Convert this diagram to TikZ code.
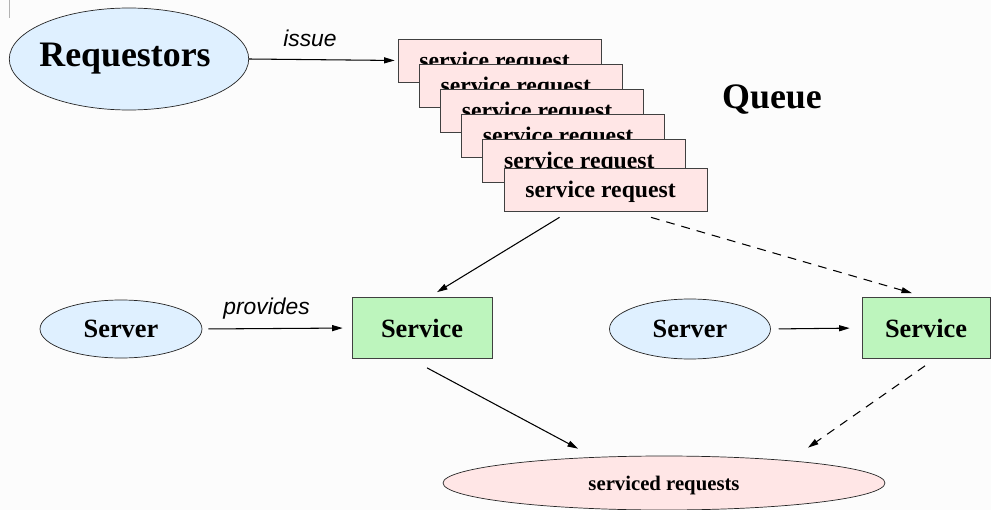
\documentclass[tikz,border=0pt]{standalone}
\usepackage{fontspec}
\setmainfont{Liberation Serif}
\setsansfont{Liberation Sans}
\usetikzlibrary{shapes.geometric,arrows.meta,calc}
\definecolor{actorblue}{HTML}{DFF0FF}
\definecolor{reqpink}{HTML}{FFE6E6}
\definecolor{svcgreen}{HTML}{BDF5BD}
\definecolor{paper}{HTML}{FCFCFC}

\begin{document}
\begin{tikzpicture}[x=0.02cm,y=-0.02cm]
\tikzstyle{every node}+=[inner sep=0pt]
\tikzstyle{actor}=[ellipse,draw=black!85,fill=actorblue,font=\fontsize{15}{16}\selectfont\bfseries]
\tikzstyle{reqbox}=[rectangle,draw=black!75,fill=reqpink,minimum width=4.06cm,minimum height=0.86cm,text depth=0pt,execute at end node=\hspace*{5.6pt},font=\fontsize{13.5}{14}\selectfont\bfseries]
\tikzstyle{svcbox}=[rectangle,draw=black!75,fill=svcgreen,minimum height=1.22cm,font=\fontsize{15}{16}\selectfont\bfseries]
\tikzstyle{arr}=[-{Triangle[length=6pt,width=3.4pt]},line width=0.6pt]
\tikzstyle{lbl}=[font=\sffamily\itshape\fontsize{13}{14}\selectfont]
\fill [paper] (0,0) rectangle (991,510);
\useasboundingbox (0,0) rectangle (991,510);
\draw [black!30] (9,0) -- (9,18);
\node [actor,minimum width=4.76cm,minimum height=2.04cm,inner xsep=-2.8pt,execute at end node=\hspace*{4.5pt},font=\fontsize{20.4}{22}\selectfont\bfseries] (req) at (129,59) {Requestors};
\node [reqbox] (sr1) at (499.5,60.5) {service request};
\node [reqbox] (sr2) at (520.7,85.5) {service request};
\node [reqbox] (sr3) at (541.9,110.5) {service request};
\node [reqbox] (sr4) at (563.1,135.5) {service request};
\node [reqbox] (sr5) at (584.3,160.5) {service request};
\node [reqbox] (sr6) at (605.5,189.5) {service request};
\node [font=\fontsize{20.4}{22}\selectfont\bfseries] (queue) at (772,100) {Queue};
\node [actor,minimum width=3.24cm,minimum height=1.16cm] (srv1) at (121,329) {Server};
\node [svcbox,minimum width=2.8cm] (svc1) at (422,328) {Service};
\node [actor,minimum width=3.22cm,minimum height=1.2cm] (srv2) at (690,329) {Server};
\node [svcbox,minimum width=2.56cm] (svc2) at (926,328) {Service};
\node [ellipse,draw=black!85,fill=reqpink,minimum width=8.84cm,minimum height=1.08cm,text depth=0pt,font=\fontsize{11.8}{13}\selectfont\bfseries] (done) at (664,483) {serviced requests};
\draw [arr,shorten >=1.7pt] (req.east) -- node [lbl,pos=0.41,above=7pt] {issue} (sr1.west);
\draw [arr,shorten <=3.4pt,shorten >=5.1pt] (srv1.east) -- node [lbl,pos=0.43,above=5pt] {provides} (svc1.west);
\draw [arr,shorten <=4.5pt,shorten >=6.8pt] (srv2.east) -- (svc2.west);
\draw [arr] ($(sr6.south)+(-46,6)$) -- ($(svc1.north)+(15,-5)$);
\draw [arr,dash pattern=on 5pt off 4pt] ($(sr6.south)+(45.5,6)$) -- ($(svc2.north)+(-14,-4)$);
\draw [arr] ($(svc1.south)+(5,9)$) -- ($(done.north)+(-86,-7)$);
\draw [arr,dash pattern=on 5pt off 4pt] ($(svc2.south)+(-1,7)$) -- ($(done.north)+(144,-8)$);
\end{tikzpicture}
\end{document}
